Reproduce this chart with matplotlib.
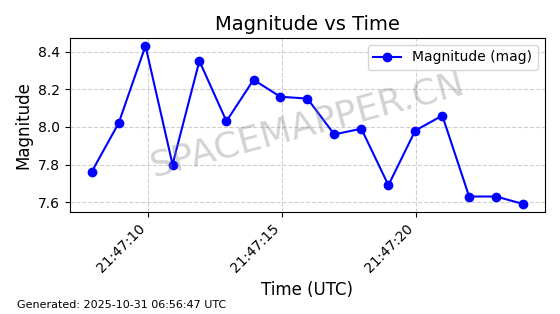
import matplotlib as mpl

mpl.use("Agg")
import matplotlib.pyplot as plt
import matplotlib.dates as mdates
import pandas as pd

times = [
    "21:47:07.90", "21:47:08.91", "21:47:09.91", "21:47:10.92", "21:47:11.92",
    "21:47:12.93", "21:47:13.94", "21:47:14.94", "21:47:15.95", "21:47:16.95",
    "21:47:17.96", "21:47:18.97", "21:47:19.97", "21:47:20.98", "21:47:21.98",
    "21:47:22.99", "21:47:24.00",
]
magnitude = [7.76, 8.02, 8.43, 7.80, 8.35, 8.03, 8.25, 8.16, 8.15, 7.96,
             7.99, 7.69, 7.98, 8.06, 7.63, 7.63, 7.59]

t = pd.to_datetime(["2025-10-30 " + s for s in times])

fig, ax = plt.subplots(figsize=(5.6, 3.14), dpi=100)
fig.subplots_adjust(left=0.125, right=0.973, top=0.879, bottom=0.325)

ax.plot(t, magnitude, "o-", color="blue", markersize=6, linewidth=1.5,
        label="Magnitude (mag)")
ax.set_title("Magnitude vs Time", fontsize=14)
ax.set_xlabel("Time (UTC)", fontsize=12)
ax.set_ylabel("Magnitude", fontsize=12)
ax.grid(True, linestyle="--", alpha=0.6)
ax.legend(loc="upper right")
ax.xaxis.set_major_locator(mdates.SecondLocator(bysecond=range(0, 60, 5)))
ax.xaxis.set_major_formatter(mdates.DateFormatter("%H:%M:%S"))
plt.setp(ax.get_xticklabels(), rotation=45, ha="right")

ax.text(0.5, 0.5, "SPACEMAPPER.CN", transform=ax.transAxes, fontsize=26,
        color="gray", alpha=0.35, rotation=15, ha="center", va="center")

fig.text(0.03, 0.02, "Generated: 2025-10-31 06:56:47 UTC", fontsize=8)

fig.savefig("out.png", dpi=100)
